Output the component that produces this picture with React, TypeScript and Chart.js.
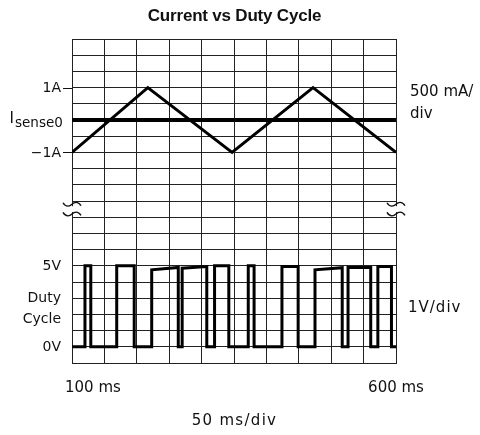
import { useEffect, useRef } from "react";
import { Chart, registerables } from "chart.js";

Chart.register(...registerables);

// ---- data ----
const chartTitle = "Current vs Duty Cycle";
const timeMinMs = 100;
const timeMaxMs = 600;
const timeStepMs = 50;
const currentMinA = -7.5;
const currentMaxA = 2.5;
const voltMin = -1;
const voltMax = 19;
const voltStep = 1;

const triangleTimesMs = [100, 217, 347, 472, 600];
const triangleCurrentA = [-1, 1, -1, 1, -1];

const isenseTimesMs = [100, 600];
const isenseCurrentA = [0, 0];

const pulseRiseMs = [120, 169, 223, 270, 320, 372, 424, 475, 526, 572];
const pulseFallMs = [129, 196, 264, 308, 342, 381, 449, 517, 561, 593];
const pulseTopStartV = [5, 5, 4.75, 4.85, 5, 5, 4.95, 4.75, 4.9, 4.95];
const pulseTopEndV = [5, 5, 4.9, 4.95, 5, 5, 4.95, 4.88, 4.9, 4.95];
const pulseLowV = 0;

const currentTickValues = [1, -1];
const currentTickLabels = ["1A", "\u22121A"];
const voltTickValues = [5, 0];
const voltTickLabels = ["5V", "0V"];
const timeLabelValues = [100, 600];
const timeLabels = ["100 ms", "600 ms"];
const xScaleLabel = "50 ms/div";
const currentScaleLabel = ["500 mA/", "div"];
const voltScaleLabel = "1V/div";

function buildPwm() {
  const pts: { x: number; y: number }[] = [{ x: timeMinMs, y: pulseLowV }];
  for (let i = 0; i < pulseRiseMs.length; i++) {
    pts.push({ x: pulseRiseMs[i], y: pulseLowV });
    pts.push({ x: pulseRiseMs[i], y: pulseTopStartV[i] });
    pts.push({ x: pulseFallMs[i], y: pulseTopEndV[i] });
    pts.push({ x: pulseFallMs[i], y: pulseLowV });
  }
  pts.push({ x: timeMaxMs, y: pulseLowV });
  return pts;
}

const INK = "#111";
const GRID = "#222";

const annotate = {
  id: "annotate",
  afterDraw(chart: any) {
    const { ctx, chartArea: a, scales } = chart;
    const sx = scales.x;
    const sI = scales.yI;
    const sV = scales.yV;
    ctx.save();

    // break marks
    const yb1 = sV.getPixelForValue(8.8);
    const yb2 = sV.getPixelForValue(8.2);
    [a.left, a.right].forEach((cx: number) => {
      ctx.fillStyle = "#fff";
      ctx.fillRect(cx - 2, yb1 + 2, 4, yb2 - yb1 - 4);
      ctx.strokeStyle = INK;
      ctx.lineWidth = 1.4;
      [yb1, yb2].forEach((cy: number) => {
        ctx.beginPath();
        ctx.moveTo(cx - 9, cy - 1.5);
        ctx.bezierCurveTo(cx - 6, cy + 3.5, cx - 2, cy + 2, cx, cy);
        ctx.bezierCurveTo(cx + 2, cy - 2, cx + 6, cy - 3.5, cx + 9, cy + 1.5);
        ctx.stroke();
      });
    });

    // ticks for current labels
    ctx.strokeStyle = INK;
    ctx.lineWidth = 1;
    currentTickValues.forEach((v) => {
      const y = Math.round(sI.getPixelForValue(v)) + 0.5;
      ctx.beginPath();
      ctx.moveTo(a.left - 9, y);
      ctx.lineTo(a.left, y);
      ctx.stroke();
    });

    ctx.fillStyle = INK;
    // title
    ctx.font = "bold 17px 'Liberation Sans', Arial, sans-serif";
    (ctx as any).letterSpacing = "-0.2px";
    ctx.textAlign = "center";
    ctx.textBaseline = "alphabetic";
    ctx.fillText(chartTitle, 234.5, 21);
    (ctx as any).letterSpacing = "0px";

    // left labels
    ctx.font = "14px 'DejaVu Sans', sans-serif";
    ctx.textAlign = "right";
    ctx.textBaseline = "middle";
    currentTickLabels.forEach((t, i) => {
      ctx.fillText(t, a.left - 11, sI.getPixelForValue(currentTickValues[i]) + 0.5);
    });
    voltTickLabels.forEach((t, i) => {
      ctx.fillText(t, a.left - 11, sV.getPixelForValue(voltTickValues[i]) + 0.5);
    });
    ctx.textBaseline = "alphabetic";
    const yDuty = sV.getPixelForValue(2.5);
    ctx.fillText("Duty", a.left - 11, yDuty - 4);
    ctx.fillText("Cycle", a.left - 11, yDuty + 17);

    // Isense0 label
    const y0 = sI.getPixelForValue(0);
    ctx.textAlign = "left";
    ctx.font = "15px 'DejaVu Sans', sans-serif";
    ctx.fillText("I", 9.5, y0 + 3);
    ctx.font = "13.5px 'DejaVu Sans', sans-serif";
    ctx.fillText("sense0", 15, y0 + 7);

    // right labels
    ctx.font = "15px 'DejaVu Sans', sans-serif";
    ctx.textAlign = "left";
    ctx.fillText(currentScaleLabel[0], a.right + 14, sI.getPixelForValue(1) + 8.5);
    ctx.fillText(currentScaleLabel[1], a.right + 14, sI.getPixelForValue(1) + 30);
    (ctx as any).letterSpacing = "1px";
    ctx.fillText(voltScaleLabel, a.right + 12, sV.getPixelForValue(2.5) + 5.5);

    // bottom labels
    (ctx as any).letterSpacing = "0px";
    const yTime = a.bottom + 28.5;
    timeLabels.forEach((t, i) => {
      const px = sx.getPixelForValue(timeLabelValues[i]);
      if (i === 0) {
        ctx.textAlign = "left";
        ctx.fillText(t, px - 7, yTime);
      } else {
        ctx.textAlign = "center";
        ctx.fillText(t, px, yTime);
      }
    });
    (ctx as any).letterSpacing = "1.3px";
    ctx.textAlign = "center";
    ctx.fillText(xScaleLabel, (a.left + a.right) / 2 + 0.5, a.bottom + 62);
    (ctx as any).letterSpacing = "0px";

    ctx.restore();
  },
};

function stepTicks(min: number, max: number, step: number) {
  const out: { value: number }[] = [];
  const n = Math.round((max - min) / step);
  for (let i = 0; i <= n; i++) out.push({ value: min + i * step });
  return out;
}

export default function App() {
  const ref = useRef<HTMLCanvasElement | null>(null);

  useEffect(() => {
    if (!ref.current) return;
    const gridOpts = { color: GRID, lineWidth: 1, drawTicks: false };
    const borderOpts = { color: GRID, width: 1 };
    const chart = new Chart(ref.current, {
      type: "line",
      data: {
        datasets: [
          {
            data: isenseTimesMs.map((x, i) => ({ x, y: isenseCurrentA[i] })),
            yAxisID: "yI",
            borderColor: "#000",
            borderWidth: 4,
            pointRadius: 0,
            fill: false,
          },
          {
            data: triangleTimesMs.map((x, i) => ({ x, y: triangleCurrentA[i] })),
            yAxisID: "yI",
            borderColor: "#000",
            borderWidth: 3,
            pointRadius: 0,
            fill: false,
            borderJoinStyle: "miter",
          },
          {
            data: buildPwm(),
            yAxisID: "yV",
            borderColor: "#000",
            borderWidth: 3,
            pointRadius: 0,
            fill: false,
            borderJoinStyle: "miter",
          },
        ],
      } as any,
      options: {
        responsive: false,
        animation: false,
        devicePixelRatio: 1,
        events: [],
        layout: { padding: { left: 72, right: 84, top: 39, bottom: 72 } },
        plugins: {
          legend: { display: false },
          tooltip: { enabled: false },
          title: { display: false },
        },
        scales: {
          x: {
            type: "linear",
            min: timeMinMs,
            max: timeMaxMs,
            ticks: { display: false, stepSize: timeStepMs },
            grid: gridOpts,
            border: borderOpts,
            afterBuildTicks: (s: any) => {
              s.ticks = stepTicks(timeMinMs, timeMaxMs, timeStepMs);
            },
            afterFit: (s: any) => {
              s.height = 0;
            },
          },
          yV: {
            type: "linear",
            position: "left",
            min: voltMin,
            max: voltMax,
            ticks: { display: false, stepSize: voltStep },
            grid: gridOpts,
            border: borderOpts,
            afterBuildTicks: (s: any) => {
              s.ticks = stepTicks(voltMin, voltMax, voltStep);
            },
            afterFit: (s: any) => {
              s.width = 0;
            },
          },
          yI: {
            type: "linear",
            position: "right",
            min: currentMinA,
            max: currentMaxA,
            display: false,
          },
        },
      } as any,
      plugins: [annotate],
    });
    return () => chart.destroy();
  }, []);

  return (
    <div style={{ position: "absolute", left: 0, top: 0, width: 480, height: 435, background: "#fff" }}>
      <canvas ref={ref} width={480} height={435} style={{ display: "block" }} />
    </div>
  );
}
